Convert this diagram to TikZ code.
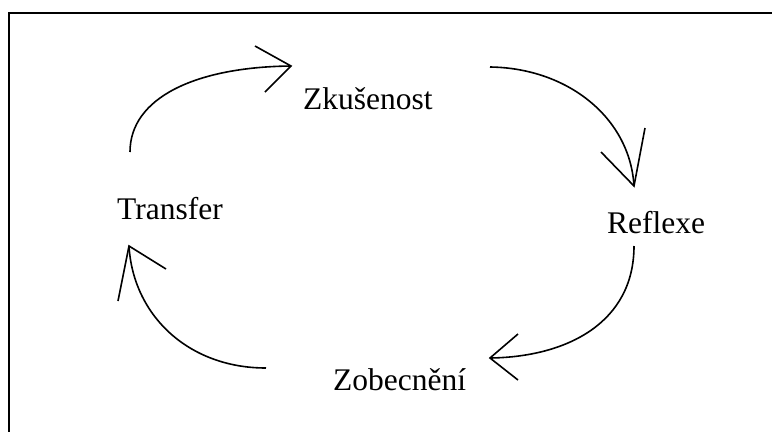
\documentclass[tikz,border=0pt]{standalone}
\usepackage{fontspec}
\setmainfont{Liberation Serif}
\begin{document}
\begin{tikzpicture}[x=1pt,y=-1pt,
  lbl/.style={inner sep=0pt,anchor=base west,font=\fontsize{31.5}{38}\selectfont},
  arc/.style={line width=1.6pt},
  head/.style={line width=1.6pt},
  frame/.style={line width=2pt}]
\useasboundingbox (0,0) rectangle (772,432);
\draw[frame] (772,13) -- (8.5,13) -- (8.5,432);

\node[lbl] (zk) at (303,109) {Zkušenost};
\node[lbl] (re) at (607,233) {Reflexe};
\node[lbl] (tr) at (117,219) {Transfer};
\node[lbl] (zo) at (333,390) {Zobecnění};

% arc 1: Transfer -> Zkusenost
\coordinate (s1) at (130,152);
\coordinate (e1) at (291,66);
\coordinate (h1a) at (255,46);
\coordinate (h1b) at (265,92);
\draw[arc] (s1) .. controls (130,98) and (195,67) .. (e1);
\draw[head] (h1a) -- (e1) -- (h1b);

% arc 2: Zkusenost -> Reflexe
\coordinate (s2) at (490,67);
\coordinate (e2) at (634,186);
\coordinate (h2a) at (601,152);
\coordinate (h2b) at (645,128);
\draw[arc] (s2) .. controls (568,68) and (630,118) .. (e2);
\draw[head] (h2a) -- (e2) -- (h2b);

% arc 3: Reflexe -> Zobecneni
\coordinate (s3) at (634,246);
\coordinate (e3) at (490,358);
\coordinate (h3a) at (518,334);
\coordinate (h3b) at (518,380);
\draw[arc] (s3) .. controls (634,322) and (568,357) .. (e3);
\draw[head] (h3a) -- (e3) -- (h3b);

% arc 4: Zobecneni -> Transfer
\coordinate (s4) at (266,368);
\coordinate (e4) at (129,246);
\coordinate (h4a) at (166,269);
\coordinate (h4b) at (118,301);
\draw[arc] (s4) .. controls (188,368) and (133,315) .. (e4);
\draw[head] (h4a) -- (e4) -- (h4b);
\end{tikzpicture}
\end{document}
